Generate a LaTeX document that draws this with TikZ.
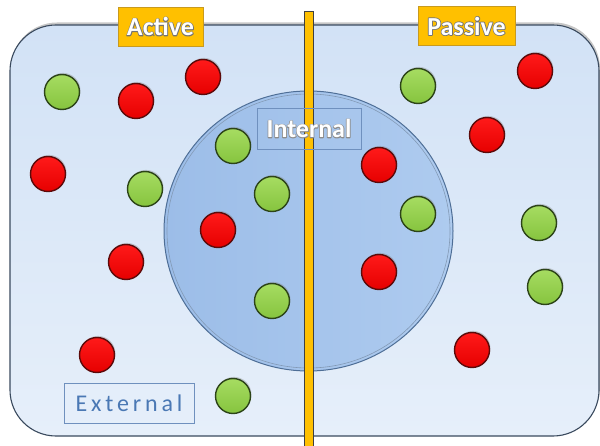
\documentclass[tikz,border=0pt]{standalone}
\usepackage{fontspec}
\setmainfont{Carlito}
\usetikzlibrary{shadows,shapes.geometric}

% white lettering with a grey rim: stroked outline underneath, plain fill on top
\newcommand{\rimtext}[2]{%
  \special{pdf:code q 1 Tr 1.5 w 1 j 1 J #1 G}\rlap{#2}\special{pdf:code Q}#2}

\definecolor{cellfillA}{HTML}{D2E2F6}
\definecolor{cellfillB}{HTML}{E6EFFA}
\definecolor{celledge}{HTML}{3A4A5E}
\definecolor{corefillA}{HTML}{9CBDE8}
\definecolor{corefillB}{HTML}{AECBEF}
\definecolor{coreedge}{HTML}{4E6E96}
\definecolor{tagyellow}{HTML}{FFC000}
\definecolor{tagedge}{HTML}{C89A1E}
\definecolor{boxedge}{HTML}{6F90BE}
\definecolor{exttext}{HTML}{4A78B4}
\definecolor{greenA}{HTML}{A6DC62}
\definecolor{greenB}{HTML}{86C43E}
\definecolor{greenedge}{HTML}{2C4418}
\definecolor{redA}{HTML}{FF1A1A}
\definecolor{redB}{HTML}{E60000}
\definecolor{rededge}{HTML}{5C0A0A}

\tikzset{
  ball/.style={circle, minimum size=35pt, inner sep=0pt, line width=1.4pt,
    drop shadow={shadow xshift=1pt, shadow yshift=1.6pt, opacity=0.35}},
  greenball/.style={ball, draw=greenedge, top color=greenA, bottom color=greenB},
  redball/.style={ball, draw=rededge, top color=redA, bottom color=redB},
  tag/.style={fill=tagyellow, draw=tagedge, line width=0.6pt, inner sep=0pt,
    font=\fontsize{26}{28}\selectfont\bfseries, text=white},
  framebox/.style={draw=boxedge, line width=0.8pt, inner sep=0pt},
}

\begin{document}
\begin{tikzpicture}[x=1pt, y=-1pt]
\useasboundingbox (0,0) rectangle (600,446);

% outer cell
\path[drop shadow={shadow xshift=1pt, shadow yshift=2.5pt, opacity=0.45},
  top color=cellfillA, bottom color=cellfillB, draw=celledge, line width=1.1pt,
  rounded corners=46pt] (10,25) rectangle (599,436);

% internal region
\node[ellipse, minimum width=289pt, minimum height=280pt, inner sep=0pt,
  draw=coreedge, line width=1pt, left color=corefillA, right color=corefillB]
  (core) at (308.5,231) {};
\draw[coreedge!70, line width=0.6pt] (core.center) ellipse [x radius=141.5pt, y radius=137pt];

% divider bar
\path[fill=tagyellow, draw=black!75, line width=0.9pt] (304,11) rectangle (313.5,450);
\coordinate (bartop) at (308.75,11);

% labels
\node[tag, minimum width=85pt, minimum height=39pt] (active) at (160.5,26.5)
  {\rimtext{0.45}{Active}};
\node[tag, minimum width=97pt, minimum height=39pt] (passive) at (466.5,26)
  {\rimtext{0.45}{Passive}};
\node[framebox, minimum width=104pt, minimum height=41pt,
  font=\fontsize{26}{28}\selectfont\bfseries, text=white] (internal) at (309,128.5)
  {\rimtext{0.55}{Internal}};
\node[framebox, minimum width=130pt, minimum height=40pt,
  font=\fontsize{24}{26}\selectfont\addfontfeatures{LetterSpace=16}, text=exttext]
  (external) at (129,403) {External};

% molecules, left side
\node[greenball] (g1) at (62,92) {};
\node[redball]   (r1) at (136,101) {};
\node[redball]   (r2) at (203,77) {};
\node[redball]   (r3) at (48,174) {};
\node[greenball] (g2) at (145,189) {};
\node[greenball] (g3) at (233,146) {};
\node[greenball] (g4) at (272,194) {};
\node[redball]   (r4) at (218,230) {};
\node[redball]   (r5) at (126,262) {};
\node[greenball] (g5) at (272,301) {};
\node[redball]   (r6) at (97,355) {};
\node[greenball] (g6) at (233,396) {};

% molecules, right side
\node[greenball] (g7) at (418,86) {};
\node[redball]   (r7) at (535,71) {};
\node[redball]   (r8) at (487,135) {};
\node[redball]   (r9) at (379,165) {};
\node[greenball] (g8) at (418,214) {};
\node[greenball] (g9) at (539,223) {};
\node[redball]   (r10) at (379,272) {};
\node[greenball] (g10) at (545,287) {};
\node[redball]   (r11) at (472,350) {};
\end{tikzpicture}
\end{document}
